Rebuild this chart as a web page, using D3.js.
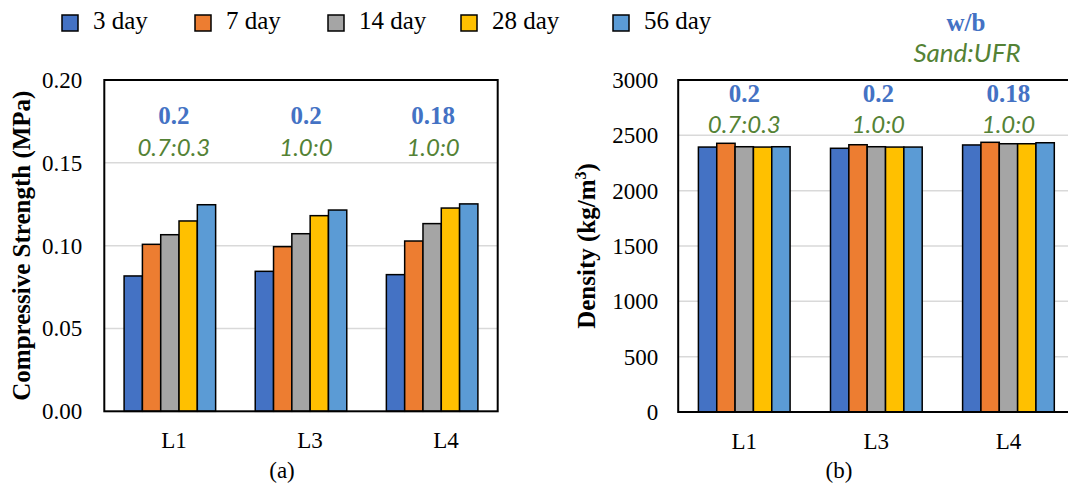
<!DOCTYPE html>
<html>
<head>
<meta charset="utf-8">
<script src="https://cdn.jsdelivr.net/npm/d3@7"></script>
<style>
  html, body { margin: 0; padding: 0; background: #fff; }
  svg { display: block; }
</style>
</head>
<body>
<svg id="chart" width="1068" height="484"></svg>
<script>
// Mixes and curing ages
const mixes = ["L1", "L3", "L4"];
const ages = ["3 day", "7 day", "14 day", "28 day", "56 day"];
const ageColors = ["#4472C4", "#ED7D31", "#A5A5A5", "#FFC000", "#5B9BD5"];

// Compressive strength (MPa), one row per mix, one value per age
const strength = [
  [0.0817, 0.1008, 0.1066, 0.1149, 0.1247],
  [0.0845, 0.0994, 0.1072, 0.1181, 0.1215],
  [0.0825, 0.1028, 0.1133, 0.1227, 0.1252]
];

// Density (kg/m3), one row per mix, one value per age
const density = [
  [2394, 2428, 2397, 2394, 2397],
  [2383, 2415, 2397, 2394, 2394],
  [2413, 2437, 2424, 2424, 2433]
];

// Mix design annotations
const wbRatio = ["0.2", "0.2", "0.18"];
const sandUfr = ["0.7:0.3", "1.0:0", "1.0:0"];

const strengthTicks = [0, 0.05, 0.10, 0.15, 0.20];
const densityTicks = [0, 500, 1000, 1500, 2000, 2500, 3000];

const SERIF = "'Liberation Serif', 'Times New Roman', serif";
const ITALIC = "Lato, 'Open Sans', sans-serif";
const BLUE = "#4472C4";
const GREEN = "#548235";

const svg = d3.select("#chart");

function panel(opts) {
  const g = svg.append("g");
  const x = d3.scaleBand().domain(mixes).range([opts.x0, opts.x1]).padding(0);
  const inner = d3.scaleBand().domain(ages)
    .range([opts.groupInset, x.bandwidth() - opts.groupInset]).padding(0);
  const y = d3.scaleLinear().domain([0, opts.ymax]).range([opts.yBot, opts.yTop]);

  // gridlines
  g.append("g").selectAll("line")
    .data(opts.ticks.filter(t => t > 0 && t < opts.ymax))
    .join("line")
    .attr("x1", opts.x0).attr("x2", opts.x1)
    .attr("y1", d => y(d)).attr("y2", d => y(d))
    .attr("stroke", "#d9d9d9").attr("stroke-width", 1.5);

  // bars
  g.append("g").selectAll("g")
    .data(opts.values.map((row, i) => ({ mix: mixes[i], row })))
    .join("g")
    .attr("transform", d => `translate(${x(d.mix)},0)`)
    .selectAll("rect")
    .data(d => d.row.map((v, j) => ({ age: ages[j], v, c: ageColors[j] })))
    .join("rect")
    .attr("x", d => inner(d.age))
    .attr("width", inner.bandwidth())
    .attr("y", d => y(d.v))
    .attr("height", d => y(0) - y(d.v))
    .attr("fill", d => d.c)
    .attr("stroke", "#000").attr("stroke-width", 1.5);

  // plot frame
  g.append("rect")
    .attr("x", opts.x0).attr("y", opts.yTop)
    .attr("width", opts.x1 - opts.x0).attr("height", opts.yBot - opts.yTop)
    .attr("fill", "none").attr("stroke", "#000").attr("stroke-width", 2);

  // y axis
  const yAxis = d3.axisLeft(y).tickValues(opts.ticks).tickSize(0)
    .tickPadding(opts.tickPad).tickFormat(opts.fmt);
  const ya = g.append("g").attr("transform", `translate(${opts.x0},0)`).call(yAxis);
  ya.select(".domain").remove();
  ya.selectAll("text").attr("font-family", SERIF).attr("font-size", 23).attr("fill", "#000");

  // x axis labels
  const xl = d3.scaleBand().domain(mixes).range(opts.labelRange);
  const xAxis = d3.axisBottom(xl).tickSize(0).tickPadding(0);
  const xa = g.append("g").attr("transform", `translate(0,${opts.yBot})`).call(xAxis);
  xa.select(".domain").remove();
  xa.selectAll("text").attr("font-family", SERIF).attr("font-size", 23).attr("fill", "#000")
    .attr("dy", null).attr("y", 37);

  // axis title
  g.append("text")
    .attr("transform", `translate(${opts.titleX},${(opts.yTop + opts.yBot) / 2}) rotate(-90)`)
    .attr("text-anchor", "middle")
    .attr("font-family", SERIF).attr("font-weight", "bold").attr("font-size", 25)
    .call(opts.title);

  // mix annotations
  const ann = g.append("g");
  ann.selectAll("text.wb").data(mixes).join("text").attr("class", "wb")
    .attr("x", (d, i) => x(d) + x.bandwidth() / 2 + opts.annShift[i])
    .attr("y", opts.wbY)
    .attr("text-anchor", "middle")
    .attr("font-family", SERIF).attr("font-weight", "bold").attr("font-size", 25)
    .attr("fill", BLUE)
    .text((d, i) => wbRatio[i]);
  ann.selectAll("text.su").data(mixes).join("text").attr("class", "su")
    .attr("x", (d, i) => x(d) + x.bandwidth() / 2 + opts.annShift[i])
    .attr("y", opts.suY)
    .attr("text-anchor", "middle")
    .attr("font-family", ITALIC).attr("font-style", "italic").attr("font-weight", 400)
    .attr("font-size", 24)
    .attr("fill", GREEN)
    .text((d, i) => sandUfr[i]);

  // panel caption
  g.append("text")
    .attr("x", opts.captionX).attr("y", 478)
    .attr("text-anchor", "middle")
    .attr("font-family", SERIF).attr("font-size", 23)
    .text(opts.caption);
}

// (a) compressive strength
panel({
  x0: 104.3, x1: 497.7, yTop: 80, yBot: 411.3, groupInset: 19.8,
  ymax: 0.20, ticks: strengthTicks, values: strength,
  fmt: d3.format(".2f"), tickPad: 22,
  labelRange: [106, 514],
  titleX: 30,
  title: t => t.text("Compressive Strength (MPa)"),
  annShift: [4, 5, 1],
  wbY: 124, suY: 155.5,
  captionX: 282, caption: "(a)"
});

// (b) density
panel({
  x0: 678.2, x1: 1074.5, yTop: 80, yBot: 412, groupInset: 20.2,
  ymax: 3000, ticks: densityTicks, values: density,
  fmt: d3.format("d"), tickPad: 20,
  labelRange: [678.2, 1074.5],
  titleX: 595,
  title: t => {
    t.append("tspan").text("Density (kg/m");
    t.append("tspan").attr("font-size", 16).attr("dy", -9).text("3");
    t.append("tspan").attr("dy", 9).text(")");
  },
  annShift: [0, 2, 0],
  wbY: 102, suY: 133,
  captionX: 839, caption: "(b)"
});

// legend
const legendX = [62, 195, 328, 461, 613];
const lg = svg.append("g").selectAll("g").data(ages).join("g")
  .attr("transform", (d, i) => `translate(${legendX[i]},15)`);
lg.append("rect").attr("width", 16).attr("height", 16)
  .attr("fill", (d, i) => ageColors[i]).attr("stroke", "#000").attr("stroke-width", 1.5);
lg.append("text").attr("x", 31).attr("y", 14)
  .attr("font-family", SERIF).attr("font-size", 25).text(d => d);

// key for the annotations
svg.append("text").attr("x", 966).attr("y", 31).attr("text-anchor", "middle")
  .attr("font-family", SERIF).attr("font-weight", "bold").attr("font-size", 25)
  .attr("fill", BLUE).text("w/b");
svg.append("text").attr("x", 967).attr("y", 62).attr("text-anchor", "middle")
  .attr("font-family", ITALIC).attr("font-style", "italic").attr("font-weight", 400)
  .attr("font-size", 26).attr("fill", GREEN).text("Sand:UFR");
</script>
</body>
</html>
